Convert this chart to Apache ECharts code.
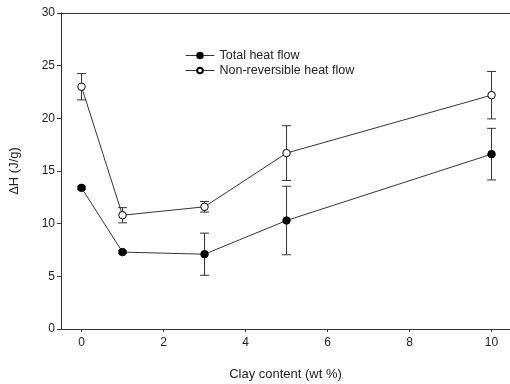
<!DOCTYPE html>
<html>
<head>
<meta charset="utf-8">
<script src="https://cdn.jsdelivr.net/npm/echarts@6/dist/echarts.min.js"></script>
<style>
  html, body {margin: 0; padding: 0; background: #fff;}
  #chart {width: 510px; height: 384px;}
</style>
</head>
<body>
<div id="chart"></div>
<script>
// clay content (wt %)
const clay = [0, 1, 3, 5, 10];
// total heat flow, dH (J/g) and its error
const totalHeat = [13.4, 7.3, 7.1, 10.3, 16.6];
const totalErr = [0.15, 0.15, 2.0, 3.25, 2.45];
// non-reversible heat flow
const nonRevHeat = [23.0, 10.8, 11.6, 16.7, 22.2];
const nonRevErr = [1.25, 0.72, 0.5, 2.6, 2.25];

const xTicks = [0, 2, 4, 6, 8, 10];
const yTicks = [0, 5, 10, 15, 20, 25, 30];

const font = 'Liberation Sans, Arial, sans-serif';
const ink = '#333';

const pairs = (ys) => clay.map((x, i) => [x, ys[i]]);
const bars = (ys, es) => clay.map((x, i) => [x, ys[i] - es[i], ys[i] + es[i]]);

const errorBar = (params, api) => {
    const x = api.value(0);
    const lo = api.coord([x, api.value(1)]);
    const hi = api.coord([x, api.value(2)]);
    const w = 4.5;
    const st = {stroke: ink, lineWidth: 1};
    return {
        type: 'group',
        children: [
            {type: 'line', shape: {x1: lo[0], y1: lo[1], x2: hi[0], y2: hi[1]}, style: st},
            {type: 'line', shape: {x1: hi[0] - w, y1: hi[1], x2: hi[0] + w, y2: hi[1]}, style: st},
            {type: 'line', shape: {x1: lo[0] - w, y1: lo[1], x2: lo[0] + w, y2: lo[1]}, style: st},
        ]
    };
};

const chart = echarts.init(document.getElementById('chart'));
chart.setOption({
    animation: false,
    grid: {left: 61, right: 0, top: 13, bottom: 55, outerBoundsMode: 'none'},
    legend: {
        data: ['Total heat flow', 'Non-reversible heat flow'],
        orient: 'vertical',
        left: 180,
        top: 44,
        itemWidth: 29,
        itemHeight: 7,
        itemGap: 2,
        lineStyle: {width: 1},
        textStyle: {fontFamily: font, fontSize: 12.5, color: '#222'}
    },
    xAxis: [{
        type: 'value',
        min: -0.5,
        max: 10.45,
        interval: 2,
        name: 'Clay content (wt %)',
        nameLocation: 'middle',
        nameGap: 39,
        nameTextStyle: {fontFamily: font, fontSize: 13, color: '#222'},
        axisLine: {onZero: false, lineStyle: {color: ink}},
        axisTick: {length: 3, lineStyle: {color: ink}, customValues: xTicks},
        axisLabel: {fontFamily: font, fontSize: 12, color: '#222', margin: 8, customValues: xTicks},
        splitLine: {show: false}
    }, {
        type: 'value',
        position: 'top',
        min: -0.5,
        max: 10.45,
        axisLine: {onZero: false, lineStyle: {color: ink}},
        axisTick: {show: false},
        axisLabel: {show: false},
        splitLine: {show: false}
    }],
    yAxis: {
        type: 'value',
        min: 0,
        max: 30,
        interval: 5,
        name: 'ΔH (J/g)',
        nameLocation: 'middle',
        nameGap: 40,
        nameTextStyle: {fontFamily: font, fontSize: 13, color: '#222'},
        axisLine: {show: true, onZero: false, lineStyle: {color: ink}},
        axisTick: {show: true, length: 4, lineStyle: {color: ink}, customValues: yTicks},
        axisLabel: {fontFamily: font, fontSize: 12, color: '#222', margin: 6, customValues: yTicks},
        splitLine: {show: false}
    },
    series: [
        {
            name: 'Total heat flow err',
            type: 'custom',
            renderItem: errorBar,
            data: bars(totalHeat, totalErr),
            z: 1,
            silent: true
        },
        {
            name: 'Non-reversible heat flow err',
            type: 'custom',
            renderItem: errorBar,
            data: bars(nonRevHeat, nonRevErr),
            z: 1,
            silent: true
        },
        {
            name: 'Total heat flow',
            type: 'line',
            data: pairs(totalHeat),
            symbol: 'circle',
            symbolSize: 7.5,
            lineStyle: {color: ink, width: 1},
            itemStyle: {color: '#000', borderColor: '#000', borderWidth: 1},
            z: 3
        },
        {
            name: 'Non-reversible heat flow',
            type: 'line',
            data: pairs(nonRevHeat),
            symbol: 'circle',
            symbolSize: 7.5,
            lineStyle: {color: ink, width: 1},
            itemStyle: {color: '#fff', borderColor: '#000', borderWidth: 1},
            z: 3
        }
    ]
});
</script>
</body>
</html>
